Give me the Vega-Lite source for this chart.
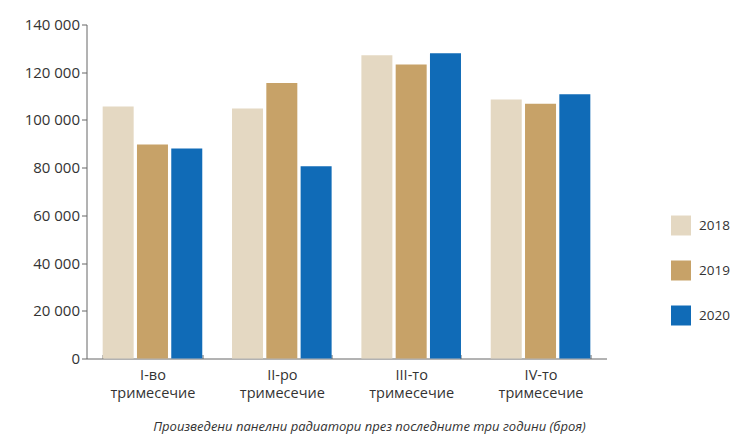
{
  "$schema": "https://vega.github.io/schema/vega-lite/v6.json",
  "width": 520,
  "height": 334,
  "padding": {"left": 23.5, "top": 17.5, "right": 5, "bottom": 5},
  "autosize": {"type": "pad"},
  "background": "white",
  "config": {
    "locale": {"number": {"decimal": ",", "thousands": " ", "grouping": [3], "currency": ["", ""]}},
    "view": {"stroke": null},
    "font": "Open Sans"
  },
  "title": {
    "text": "Произведени панелни радиатори през последните три години (броя)",
    "orient": "bottom",
    "anchor": "middle",
    "fontSize": 13,
    "fontStyle": "italic",
    "fontWeight": "normal",
    "color": "#333333",
    "dx": 23,
    "offset": 21,
    "font": "Open Sans"
  },
  "data": {
    "values": [
      {"quarter": "I-во тримесечие", "year": "2018", "value": 105600},
      {"quarter": "I-во тримесечие", "year": "2019", "value": 89700},
      {"quarter": "I-во тримесечие", "year": "2020", "value": 88000},
      {"quarter": "II-ро тримесечие", "year": "2018", "value": 104800},
      {"quarter": "II-ро тримесечие", "year": "2019", "value": 115500},
      {"quarter": "II-ро тримесечие", "year": "2020", "value": 80600},
      {"quarter": "III-то тримесечие", "year": "2018", "value": 127100},
      {"quarter": "III-то тримесечие", "year": "2019", "value": 123200},
      {"quarter": "III-то тримесечие", "year": "2020", "value": 128000},
      {"quarter": "IV-то тримесечие", "year": "2018", "value": 108600},
      {"quarter": "IV-то тримесечие", "year": "2019", "value": 106800},
      {"quarter": "IV-то тримесечие", "year": "2020", "value": 110800}
    ]
  },
  "mark": {"type": "bar"},
  "encoding": {
    "x": {
      "field": "quarter",
      "type": "nominal",
      "sort": null,
      "scale": {"paddingInner": 0.23, "paddingOuter": 0.125},
      "axis": {
        "title": null,
        "labelAngle": 0,
        "labelExpr": "split(datum.label, ' ')",
        "labelFontSize": 14.5,
        "labelLineHeight": 18,
        "labelColor": "#333333",
        "tickBand": "extent",
        "tickSize": -4,
        "labelPadding": 14,
        "domainColor": "#666666",
        "tickColor": "#666666"
      }
    },
    "xOffset": {
      "field": "year",
      "type": "nominal",
      "scale": {"paddingInner": 0.096, "paddingOuter": 0}
    },
    "y": {
      "field": "value",
      "type": "quantitative",
      "scale": {"domain": [0, 140000]},
      "axis": {
        "title": null,
        "values": [0, 20000, 40000, 60000, 80000, 100000, 120000, 140000],
        "format": ",d",
        "labelFontSize": 15,
        "labelColor": "#333333",
        "domainColor": "#666666",
        "tickColor": "#666666",
        "tickSize": 5,
        "labelPadding": 2,
        "grid": false
      }
    },
    "color": {
      "field": "year",
      "type": "nominal",
      "scale": {"domain": ["2018", "2019", "2020"], "range": ["#E4D8C2", "#C7A268", "#106BB7"]},
      "legend": {
        "title": null,
        "orient": "none",
        "legendX": 584.5,
        "legendY": 191,
        "symbolType": "square",
        "symbolSize": 400,
        "symbolStrokeWidth": 0,
        "symbolOpacity": 1,
        "rowPadding": 25,
        "labelFontSize": 13.5,
        "labelOffset": 8,
        "labelColor": "#333333",
        "padding": 0
      }
    }
  }
}
